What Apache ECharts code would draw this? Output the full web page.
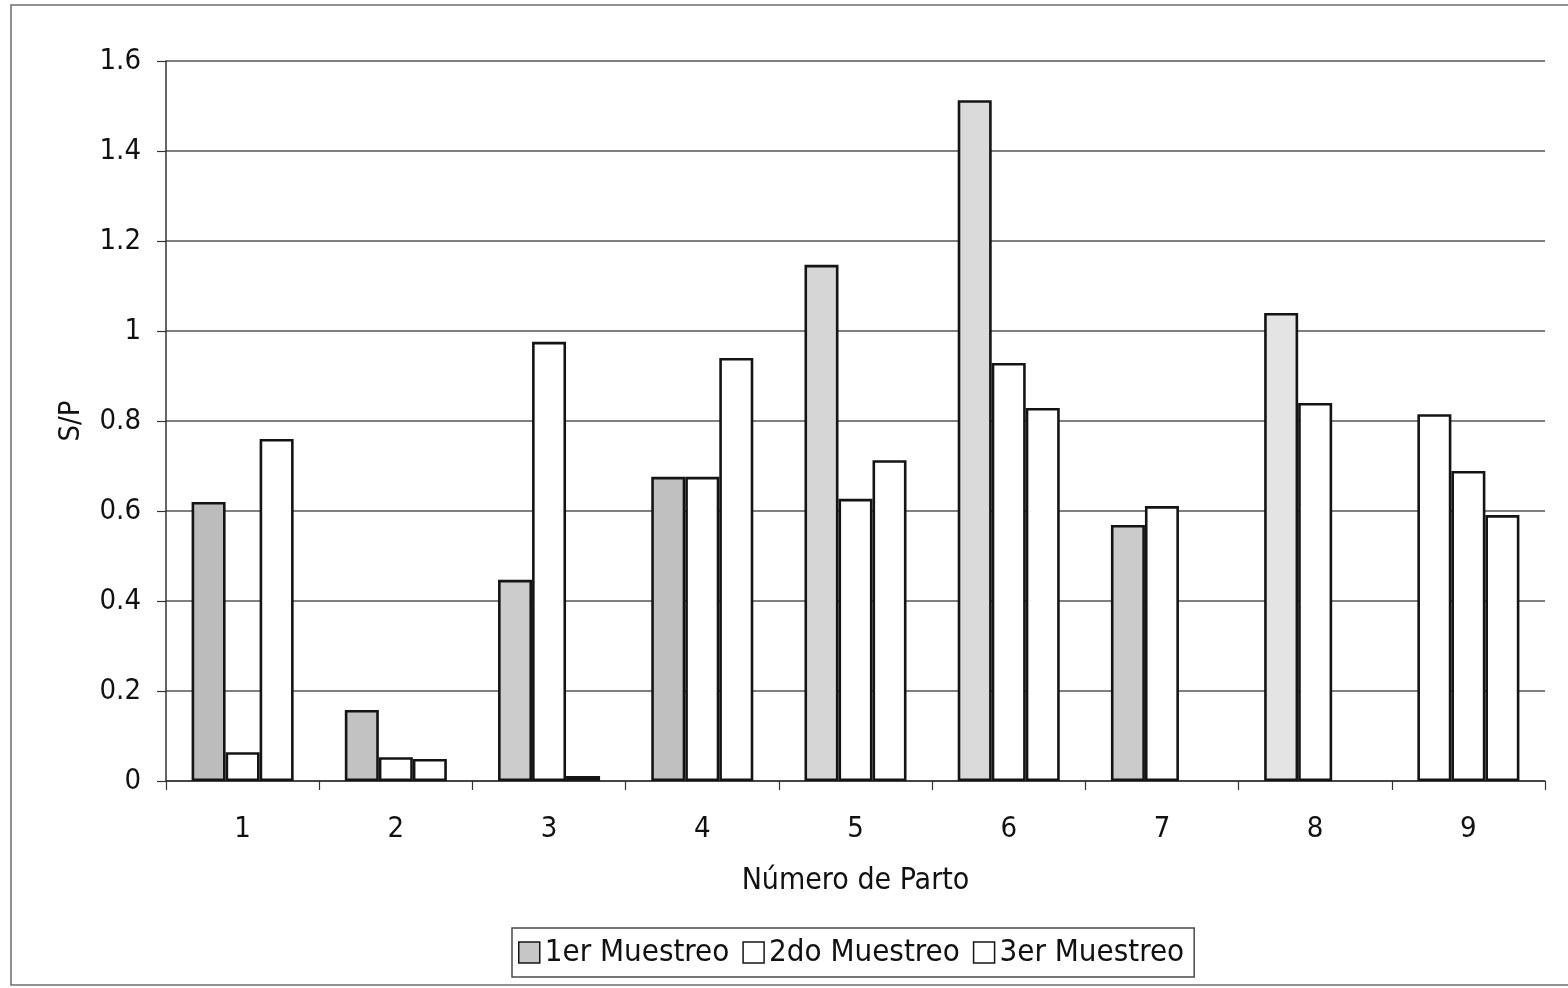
<!DOCTYPE html>
<html>
<head>
<meta charset="utf-8">
<title>S/P por Número de Parto</title>
<script src="https://cdn.jsdelivr.net/npm/echarts@6/dist/echarts.min.js"></script>
<style>
  html, body { margin: 0; padding: 0; background: #ffffff; }
  #chart { width: 1568px; height: 988px; }
</style>
</head>
<body>
<div id="chart"></div>
<script>
// Categories (parity number) and S/P values per sampling round
const partos = ['1', '2', '3', '4', '5', '6', '7', '8', '9'];
const muestreo1 = [0.62, 0.158, 0.447, 0.676, 1.147, 1.513, 0.569, 1.04, 0.815];
const muestreo2 = [0.064, 0.053, 0.976, 0.676, 0.627, 0.929, 0.611, 0.84, 0.689];
const muestreo3 = [0.76, 0.049, 0.011, 0.94, 0.713, 0.829, null, null, 0.591];
const seriesNames = ['1er Muestreo', '2do Muestreo', '3er Muestreo'];
const yTicks = [0, 0.2, 0.4, 0.6, 0.8, 1, 1.2, 1.4, 1.6];

// Fill shades for the first round, bar by bar (print toner fades to the right)
const shades1 = ['#bcbcbc', '#c2c2c2', '#cccccc', '#c0c0c0', '#d6d6d6', '#dadada', '#cbcbcb', '#e4e4e4', '#ffffff'];

const FONT = '"DejaVu Sans Condensed", "DejaVu Sans", sans-serif';
const edge = '#141414';

const chart = echarts.init(document.getElementById('chart'), null, { renderer: 'canvas' });

function barSeries(name, values, fill, perItem) {
  return {
    name: name,
    type: 'bar',
    data: values.map((v, i) => perItem ? { value: v, itemStyle: { color: perItem[i] } } : v),
    barGap: '0%',
    barCategoryGap: '33.4%',
    itemStyle: { color: fill, borderColor: edge, borderWidth: 2.6 },
    emphasis: { disabled: true },
    animation: false
  };
}

chart.setOption({
  backgroundColor: '#ffffff',
  animation: false,
  textStyle: { fontFamily: FONT },
  grid: { left: 166, right: 23, top: 61, bottom: 207, containLabel: false },
  graphic: [{
    type: 'rect',
    shape: { x: 11, y: 5, width: 1570, height: 980 },
    style: { fill: 'none', stroke: '#6e6e6e', lineWidth: 1.5 },
    silent: true
  }],
  legend: {
    data: seriesNames,
    left: 512,
    top: 928,
    width: 700,
    padding: [9, 10, 9, 6],
    itemGap: 13,
    itemWidth: 21,
    itemHeight: 21,
    borderColor: '#4a4a4a',
    borderWidth: 1.5,
    icon: 'rect',
    itemStyle: { borderColor: edge, borderWidth: 1.5 },
    textStyle: { fontFamily: FONT, fontSize: 31, color: '#111' },
    selectedMode: false
  },
  xAxis: {
    type: 'category',
    data: partos,
    name: 'Número de Parto',
    nameLocation: 'middle',
    nameGap: 85,
    nameTextStyle: { fontFamily: FONT, fontSize: 30, color: '#111' },
    axisLine: { show: true, lineStyle: { color: '#333', width: 1.5 } },
    axisTick: { show: true, alignWithLabel: false, length: 9, lineStyle: { color: '#333', width: 1.2 } },
    axisLabel: { fontFamily: FONT, fontSize: 29, color: '#111', margin: 34 }
  },
  yAxis: {
    type: 'value',
    min: 0,
    max: 1.6,
    interval: 0.2,
    name: 'S/P',
    nameLocation: 'middle',
    nameRotate: 90,
    nameGap: 80,
    nameTextStyle: { fontFamily: FONT, fontSize: 29, color: '#111' },
    axisLine: { show: true, lineStyle: { color: '#333', width: 1.5 } },
    axisTick: { show: true, length: 9, lineStyle: { color: '#333', width: 1.2 } },
    axisLabel: {
      fontFamily: FONT, fontSize: 29, color: '#111', margin: 25,
      formatter: v => {
        const t = yTicks.find(x => Math.abs(x - v) < 1e-9);
        return String(t !== undefined ? t : v);
      }
    },
    splitLine: { show: true, lineStyle: { color: '#555', width: 1.5 } }
  },
  series: [
    barSeries(seriesNames[0], muestreo1, '#c6c6c6', shades1),
    barSeries(seriesNames[1], muestreo2, '#ffffff'),
    barSeries(seriesNames[2], muestreo3, '#ffffff')
  ]
});
</script>
</body>
</html>
